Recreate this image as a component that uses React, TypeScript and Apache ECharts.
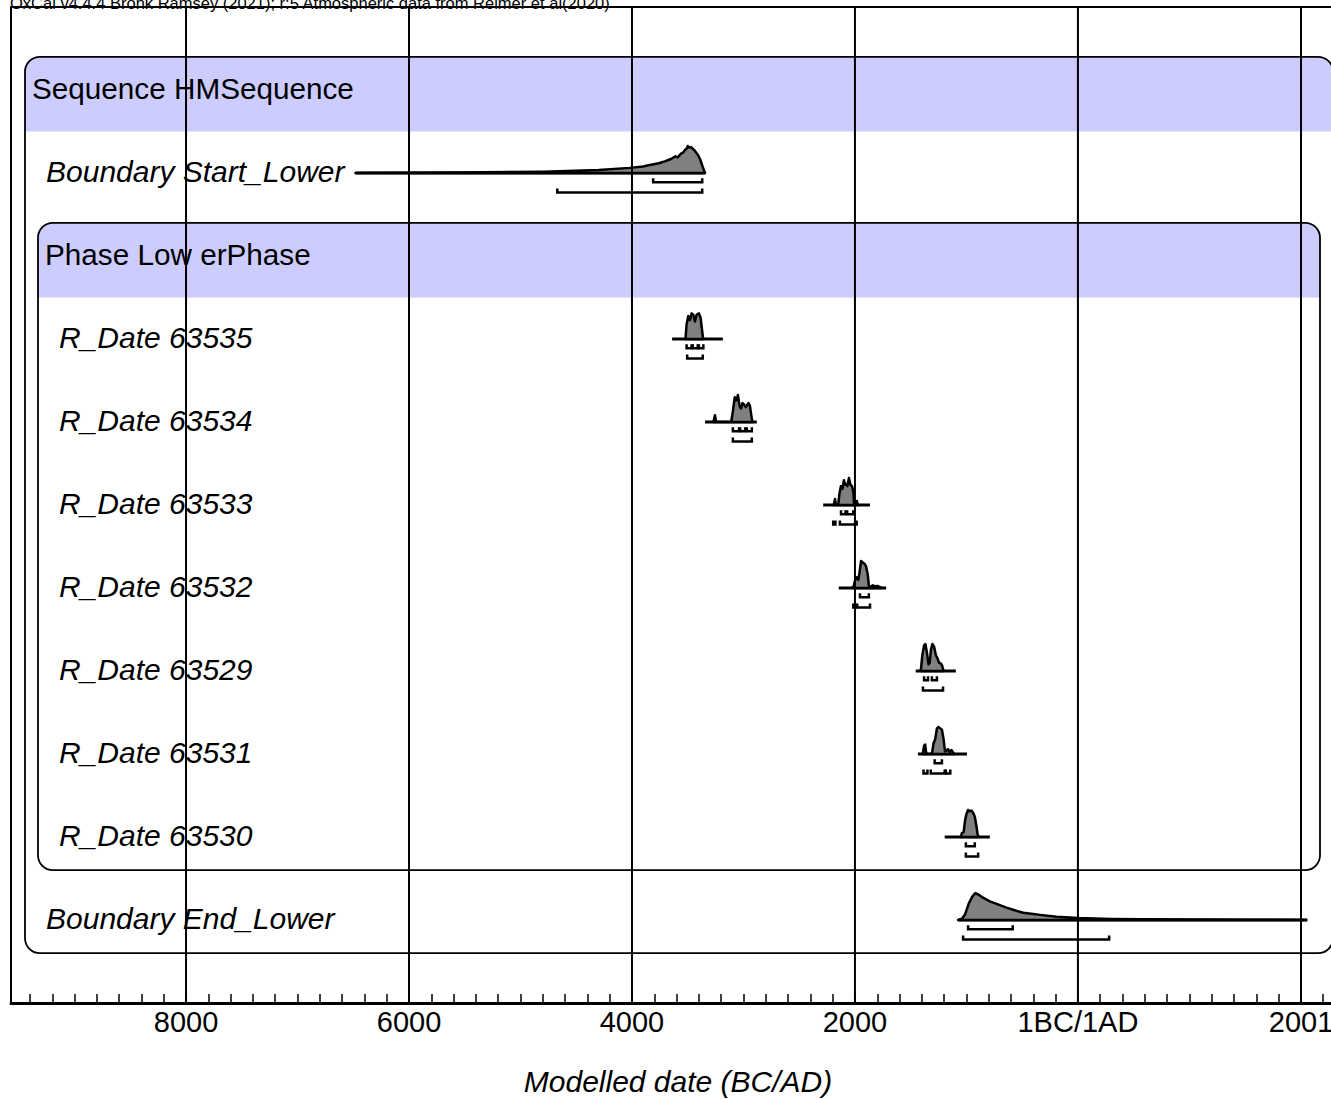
import React, { useEffect, useRef } from "react";
import * as echarts from "echarts";

const titleText = "OxCal v4.4.4 Bronk Ramsey (2021); r:5 Atmospheric data from Reimer et al(2020)";
const axisTitle = "Modelled date (BC/AD)";

const xMin = -9570;
const xMax = 2270;
const majorTicks = [-8000, -6000, -4000, -2000, 0, 2001];
const majorTickLabels = ["8000", "6000", "4000", "2000", "1BC/1AD", "2001"];
const minorTicks: number[] = [];
for (let t = -9400; t <= 2200; t += 200) minorTicks.push(t);

const rowNames = [
  "Sequence HMSequence",
  "Boundary Start_Lower",
  "Phase Low erPhase",
  "R_Date 63535",
  "R_Date 63534",
  "R_Date 63533",
  "R_Date 63532",
  "R_Date 63529",
  "R_Date 63531",
  "R_Date 63530",
  "Boundary End_Lower",
];
const rowIsHeader = [true, false, true, false, false, false, false, false, false, false, false];
const rowLevel = [0, 0, 1, 1, 1, 1, 1, 1, 1, 1, 0];

const boxFirstRow = [0, 2];
const boxLastRow = [10, 9];
const boxLevel = [0, 1];

// densities: [year (BC negative), relative probability 0..100]
const distStartLower: [number, number][] = [
  [-6480, 0], [-5600, 2], [-4800, 5], [-4300, 11], [-4020, 19], [-3900, 24], [-3840, 30],
  [-3760, 36], [-3700, 44], [-3650, 52], [-3610, 62], [-3590, 58], [-3560, 72], [-3540, 76],
  [-3525, 85], [-3510, 90], [-3500, 100], [-3485, 94], [-3470, 96], [-3450, 88], [-3435, 82],
  [-3410, 68], [-3390, 52], [-3363, 20], [-3345, 0],
];
const dist63535: [number, number][] = [
  [-3520, 0], [-3510, 55], [-3495, 85], [-3480, 70], [-3465, 95], [-3450, 90], [-3435, 65],
  [-3420, 90], [-3400, 95], [-3385, 80], [-3372, 35], [-3362, 0],
];
const dist63534: [number, number][] = [
  [-3270, 0], [-3256, 25], [-3245, 0], [-3110, 0], [-3095, 40], [-3078, 92], [-3065, 80],
  [-3050, 100], [-3035, 60], [-3022, 50], [-3008, 70], [-2995, 65], [-2980, 55], [-2968, 62],
  [-2955, 70], [-2942, 60], [-2928, 20], [-2920, 0],
];
const dist63533: [number, number][] = [
  [-2190, 0], [-2179, 22], [-2170, 0], [-2150, 0], [-2140, 40], [-2126, 70], [-2112, 60],
  [-2099, 92], [-2088, 75], [-2081, 78], [-2068, 70], [-2054, 100], [-2040, 75], [-2027, 70],
  [-2015, 50], [-2008, 5], [-1995, 10], [-1983, 15], [-1975, 0],
];
const dist63532: [number, number][] = [
  [-2025, 0], [-2010, 8], [-1995, 35], [-1985, 40], [-1970, 30], [-1960, 55], [-1945, 100],
  [-1930, 95], [-1915, 90], [-1900, 80], [-1885, 50], [-1875, 8], [-1860, 5], [-1840, 10],
  [-1820, 6], [-1800, 8], [-1780, 4], [-1760, 0],
];
const dist63529: [number, number][] = [
  [-1410, 0], [-1395, 60], [-1380, 95], [-1368, 100], [-1355, 70], [-1340, 25], [-1330, 30],
  [-1318, 80], [-1305, 100], [-1290, 90], [-1275, 60], [-1258, 45], [-1245, 30], [-1230, 28],
  [-1218, 20], [-1205, 0],
];
const dist63531: [number, number][] = [
  [-1392, 0], [-1380, 30], [-1370, 35], [-1360, 0], [-1310, 0], [-1295, 40], [-1280, 55],
  [-1265, 95], [-1250, 100], [-1235, 95], [-1220, 90], [-1205, 55], [-1192, 10], [-1180, 12],
  [-1165, 18], [-1150, 8], [-1135, 15], [-1120, 5], [-1110, 0],
];
const dist63530: [number, number][] = [
  [-1050, 0], [-1040, 15], [-1025, 18], [-1013, 60], [-1000, 85], [-985, 100], [-970, 95],
  [-955, 98], [-940, 90], [-925, 75], [-910, 40], [-900, 10], [-890, 0],
];
const distEndLower: [number, number][] = [
  [-1075, 0], [-1040, 5], [-1013, 20], [-980, 60], [-950, 85], [-920, 100], [-900, 96],
  [-860, 85], [-790, 69], [-700, 55], [-640, 46], [-560, 35], [-490, 27], [-400, 22],
  [-340, 19], [-190, 12], [0, 7], [300, 4], [560, 3], [1000, 2], [1500, 1], [2050, 0],
];

// plotted range (baseline) for each distribution
const lineStartLower = [-6480, -3345];
const line63535 = [-3640, -3185];
const line63534 = [-3345, -2880];
const line63533 = [-2285, -1865];
const line63532 = [-2145, -1720];
const line63529 = [-1455, -1095];
const line63531 = [-1435, -995];
const line63530 = [-1195, -790];
const lineEndLower = [-1075, 2055];

// highest posterior density ranges
const r68StartLower = [[-3810, -3370]];
const r68_63535 = [[-3510, -3465], [-3455, -3410], [-3400, -3360]];
const r68_63534 = [[-3095, -3040], [-3030, -2985], [-2970, -2925]];
const r68_63533 = [[-2125, -2085], [-2070, -2015]];
const r68_63532 = [[-1955, -1875]];
const r68_63529 = [[-1380, -1345], [-1310, -1265]];
const r68_63531 = [[-1285, -1220]];
const r68_63530 = [[-1005, -925]];
const r68EndLower = [[-985, -585]];

const r95StartLower = [[-4670, -3370]];
const r95_63535 = [[-3505, -3365]];
const r95_63534 = [[-3095, -2925]];
const r95_63533 = [[-2195, -2175], [-2135, -1985]];
const r95_63532 = [[-2015, -1995], [-1980, -1865]];
const r95_63529 = [[-1390, -1210]];
const r95_63531 = [[-1385, -1350], [-1320, -1195], [-1185, -1145]];
const r95_63530 = [[-1005, -895]];
const r95EndLower = [[-1030, 280]];

const rowDist: ([number, number][] | null)[] = [
  null, distStartLower, null, dist63535, dist63534, dist63533, dist63532, dist63529, dist63531, dist63530, distEndLower,
];
const rowLine: (number[] | null)[] = [
  null, lineStartLower, null, line63535, line63534, line63533, line63532, line63529, line63531, line63530, lineEndLower,
];
const rowR68: (number[][] | null)[] = [
  null, r68StartLower, null, r68_63535, r68_63534, r68_63533, r68_63532, r68_63529, r68_63531, r68_63530, r68EndLower,
];
const rowR95: (number[][] | null)[] = [
  null, r95StartLower, null, r95_63535, r95_63534, r95_63533, r95_63532, r95_63529, r95_63531, r95_63530, r95EndLower,
];

const FONT = "'Liberation Sans', Arial, sans-serif";
const DIST_H = 0.325; // rows per 100 units of probability

export default function App() {
  const ref = useRef<HTMLDivElement>(null);
  useEffect(() => {
    document.body.style.margin = "0";
    const chart = echarts.init(ref.current!, null, { renderer: "svg" });
    const distRows = rowDist.map((d, i) => (d ? i : -1)).filter((i) => i >= 0);

    const option: any = {
      animation: false,
      backgroundColor: "#ffffff",
      grid: { left: 11, right: 0, top: 7, height: 996, containLabel: false, outerBoundsMode: "none" },
      xAxis: [
        {
          type: "value",
          min: xMin,
          max: xMax,
          position: "bottom",
          axisLine: { show: true, onZero: false, lineStyle: { color: "#000", width: 3 } },
          axisTick: {
            show: true,
            inside: true,
            length: 9,
            customValues: minorTicks,
            lineStyle: { color: "#000", width: 1.5 },
          },
          axisLabel: {
            show: true,
            customValues: majorTicks,
            margin: 4,
            color: "#000",
            fontSize: 29,
            fontFamily: FONT,
            hideOverlap: false,
            formatter: (v: number) => {
              const i = majorTicks.indexOf(v);
              return i >= 0 ? majorTickLabels[i] : "";
            },
          },
          splitLine: { show: false },
        },
        {
          type: "value",
          min: xMin,
          max: xMax,
          position: "top",
          axisLine: { show: true, onZero: false, lineStyle: { color: "#000", width: 2 } },
          axisTick: { show: false },
          axisLabel: { show: false },
          splitLine: { show: false },
        },
      ],
      yAxis: {
        type: "value",
        inverse: true,
        min: -1,
        max: 11,
        axisLine: { show: true, onZero: false, lineStyle: { color: "#000", width: 2 } },
        axisTick: { show: false },
        axisLabel: { show: false },
        splitLine: { show: false },
      },
      graphic: [
        {
          type: "text",
          x: 10,
          y: 11,
          style: {
            text: titleText,
            font: `16.5px ${FONT}`,
            fill: "#000",
            verticalAlign: "bottom",
          },
        },
        {
          type: "text",
          x: 678,
          y: 1081,
          style: {
            text: axisTitle,
            font: `italic 30px ${FONT}`,
            fill: "#000",
            align: "center",
            verticalAlign: "middle",
          },
        },
      ],
      series: [
        {
          type: "custom",
          name: "boxes",
          z: 1,
          clip: false,
          data: boxFirstRow.map((f, i) => [f, boxLastRow[i], boxLevel[i]]),
          renderItem: (params: any, api: any) => {
            const first = api.value(0);
            const last = api.value(1);
            const lvl = api.value(2);
            const cs = params.coordSys;
            const left = cs.x + 14 + 13 * lvl;
            const right = cs.x + cs.width + 2 - 13 * lvl;
            const top = api.coord([0, first - 0.4])[1];
            const bandBottom = api.coord([0, first + 0.5])[1];
            const bottom = api.coord([0, last + 0.4])[1];
            return {
              type: "group",
              children: [
                {
                  type: "rect",
                  shape: { x: left, y: top, width: right - left, height: bandBottom - top, r: [15, 15, 0, 0] },
                  style: { fill: "#ccccff", stroke: null },
                },
                {
                  type: "rect",
                  shape: { x: left, y: top, width: right - left, height: bottom - top, r: 15 },
                  style: { fill: null, stroke: "#000", lineWidth: 1.8 },
                },
              ],
            };
          },
        },
        {
          type: "custom",
          name: "labels",
          z: 2,
          clip: false,
          data: rowNames.map((_, i) => [i]),
          renderItem: (params: any, api: any) => {
            const row = api.value(0);
            const cs = params.coordSys;
            const header = rowIsHeader[row];
            const x = cs.x + 14 + 13 * rowLevel[row] + (header ? 7 : 21);
            const y = api.coord([0, row])[1] - 1.5;
            return {
              type: "text",
              x,
              y,
              style: {
                text: rowNames[row],
                font: `${header ? "" : "italic "}${header ? 29.7 : 30}px ${FONT}`,
                fill: "#000",
                verticalAlign: "middle",
                align: "left",
              },
            };
          },
        },
        {
          type: "custom",
          name: "distributions",
          z: 3,
          clip: false,
          data: distRows.map((r) => [r]),
          renderItem: (params: any, api: any) => {
            const row = api.value(0);
            const dist = rowDist[row]!;
            const line = rowLine[row]!;
            const pts = dist.map(([yr, p]) => api.coord([yr, row - (p / 100) * DIST_H]));
            const children: any[] = [];
            children.push({
              type: "line",
              shape: {
                x1: api.coord([line[0], row])[0],
                y1: api.coord([line[0], row])[1],
                x2: api.coord([line[1], row])[0],
                y2: api.coord([line[1], row])[1],
              },
              style: { stroke: "#000", lineWidth: 2.8 },
            });
            children.push({
              type: "polygon",
              shape: { points: pts },
              style: { fill: "#808080", stroke: "#000", lineWidth: 2.5, lineJoin: "round" },
            });
            const addBrackets = (ranges: number[][] | null, off: number) => {
              if (!ranges) return;
              ranges.forEach(([a, b]) => {
                const pa = api.coord([a, row + off]);
                const pb = api.coord([b, row + off]);
                children.push({
                  type: "polyline",
                  shape: {
                    points: [
                      [pa[0], pa[1] - 4],
                      pa,
                      pb,
                      [pb[0], pb[1] - 4],
                    ],
                  },
                  style: { stroke: "#000", lineWidth: 2.5, fill: null },
                });
              });
            };
            addBrackets(rowR68[row], 0.11);
            addBrackets(rowR95[row], 0.235);
            return { type: "group", children };
          },
        },
        {
          type: "custom",
          name: "gridlines",
          z: 4,
          clip: false,
          data: majorTicks.map((t) => [t]),
          renderItem: (params: any, api: any) => {
            const v = api.value(0);
            const p1 = api.coord([v, -1]);
            const p2 = api.coord([v, 11]);
            return {
              type: "line",
              shape: { x1: p1[0], y1: p1[1], x2: p2[0], y2: p2[1] },
              style: { stroke: "#000", lineWidth: 2 },
            };
          },
        },
      ],
    };
    chart.setOption(option);
    return () => chart.dispose();
  }, []);
  return <div ref={ref} style={{ width: 1331, height: 1099 }} />;
}
